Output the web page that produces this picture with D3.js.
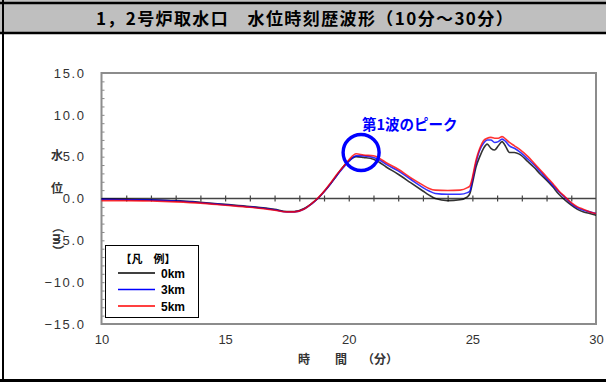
<!DOCTYPE html>
<html><head><meta charset="utf-8">
<script src="https://cdn.jsdelivr.net/npm/d3@7"></script>
<style>
html,body{margin:0;padding:0;background:#fff;}
svg{display:block;}
text{font-family:"Noto Sans CJK JP","Liberation Sans",sans-serif;}
</style></head><body>
<script>
const chartTitle = "1，2号炉取水口　水位時刻歴波形（10分～30分）";
const xTicks = [10, 15, 20, 25, 30];
const yTicks = [15, 10, 5, 0, -5, -10, -15];
const seriesNames = ["0km", "3km", "5km"];
const seriesColors = ["#000000", "#0000ff", "#ff0000"];
const times = [10,11,12,13,14,15,16,17,17.5,17.8,18.2,18.5,18.75,19,19.25,19.5,19.75,20,20.3,20.6,21,21.25,21.5,22,22.5,23,23.25,23.5,24,24.5,24.8,24.9,25,25.15,25.3,25.45,25.6,25.75,25.9,26.05,26.2,26.35,26.5,26.7,26.9,27.25,27.5,27.75,28,28.25,28.5,28.75,29,29.25,29.5,29.75,30];
const level0km = [-0.05,-0.1,-0.15,-0.25,-0.45,-0.7,-0.95,-1.3,-1.55,-1.55,-1.2,-0.6,0.0,0.8,1.7,2.7,3.7,4.5,5.0,4.9,4.7,4.3,3.8,2.9,1.9,0.9,0.4,0.0,-0.25,-0.15,0.2,0.6,1.8,3.8,5.0,6.0,6.5,6.0,5.8,6.3,6.8,6.2,5.5,5.5,5.3,4.4,3.7,2.9,2.2,1.4,0.5,-0.2,-0.8,-1.3,-1.6,-1.8,-2.0];
const level3km = [-0.1,-0.15,-0.2,-0.3,-0.5,-0.75,-1.0,-1.35,-1.6,-1.6,-1.25,-0.65,0.0,0.8,1.7,2.7,3.6,4.4,5.1,5.1,4.9,4.6,4.1,3.3,2.3,1.3,0.9,0.6,0.5,0.5,0.7,0.9,2.2,4.3,5.8,6.6,7.0,7.0,6.7,6.8,7.1,6.8,6.3,6.0,5.6,4.7,4.0,3.2,2.4,1.6,0.8,0.1,-0.6,-1.1,-1.4,-1.6,-1.8];
const level5km = [-0.25,-0.25,-0.3,-0.4,-0.55,-0.8,-1.05,-1.4,-1.6,-1.6,-1.25,-0.6,0.05,0.85,1.8,2.8,3.7,4.6,5.35,5.2,5.1,4.8,4.3,3.5,2.5,1.6,1.2,1.0,0.95,1.0,1.3,1.5,2.5,4.6,6.0,6.9,7.2,7.3,7.2,7.2,7.4,7.1,6.7,6.3,5.9,5.0,4.2,3.4,2.6,1.8,0.9,0.2,-0.5,-1.0,-1.3,-1.6,-1.8];
const seriesValues = [level0km, level3km, level5km];
const annotationText = "第1波のピーク";
const annotationPoint = {t: 20.5, v: 5.5};

const W = 606, H = 382;
const svg = d3.select("body").append("svg").attr("width", W).attr("height", H);

// frame
svg.append("rect").attr("x",0).attr("y",0).attr("width",W).attr("height",33).attr("fill","#bfbfbf");
svg.append("line").attr("x1",0).attr("x2",W).attr("y1",3).attr("y2",3).attr("stroke","#000").attr("stroke-width",2.5);
svg.append("line").attr("x1",0).attr("x2",W).attr("y1",33).attr("y2",33).attr("stroke","#000").attr("stroke-width",2.5);
svg.append("line").attr("x1",3).attr("x2",3).attr("y1",0).attr("y2",H).attr("stroke","#000").attr("stroke-width",2);
svg.append("line").attr("x1",0).attr("x2",W).attr("y1",380.5).attr("y2",380.5).attr("stroke","#000").attr("stroke-width",3);
svg.append("text").attr("x",305).attr("y",25).attr("text-anchor","middle")
  .attr("font-size",17).attr("font-weight","bold").attr("fill","#000").attr("letter-spacing","1.4px").text(chartTitle);

const L = 101.5, R = 596, T = 73, B = 324;
const x = d3.scaleLinear().domain([10,30]).range([L,R]);
const y = d3.scaleLinear().domain([-15,15]).range([B,T]);

// y minor ticks (inside left border)
const yMinor = d3.range(-15, 15.01, 1);
svg.append("g").attr("transform",`translate(${L},0)`)
  .call(d3.axisRight(y).tickValues(yMinor).tickSize(3).tickFormat(""))
  .call(g=>g.select(".domain").remove())
  .call(g=>g.selectAll("line").attr("stroke","#888"));

// y labels
svg.append("g").attr("transform",`translate(${L-14},0)`)
  .call(d3.axisLeft(y).tickValues(yTicks).tickSize(0).tickPadding(2).tickFormat(d=>d3.format(".1f")(d).replace("-","−")))
  .call(g=>g.select(".domain").remove())
  .call(g=>g.selectAll("text").attr("font-size",13).attr("fill","#333").attr("letter-spacing","1.6px")
     .style("font-family","'Liberation Sans',sans-serif"));

// plot border
svg.append("rect").attr("x",L).attr("y",T).attr("width",R-L).attr("height",B-T)
  .attr("fill","none").attr("stroke","#8c8c8c").attr("stroke-width",2);

// zero axis with minute ticks
const xMinor = d3.range(11, 30, 1);
svg.append("g").attr("transform",`translate(0,${y(0)})`)
  .call(d3.axisBottom(x).tickValues(xMinor).tickSize(3).tickFormat(""))
  .call(g=>g.select(".domain").attr("stroke","#444").attr("stroke-width",1.5).attr("d",`M${L},0H${R}`))
  .call(g=>g.selectAll(".tick line").attr("stroke","#444").attr("y1",-3).attr("y2",3).attr("stroke-width",1.2));

// x labels
svg.append("g").attr("transform",`translate(0,${B+8})`)
  .call(d3.axisBottom(x).tickValues(xTicks).tickSize(0).tickFormat(d3.format("d")))
  .call(g=>g.select(".domain").remove())
  .call(g=>g.selectAll("text").attr("font-size",13).attr("fill","#333")
     .style("font-family","'Liberation Sans',sans-serif"));

const xt = svg.append("g").attr("font-size",12).attr("font-weight","bold").attr("fill","#333").attr("text-anchor","middle");
xt.append("text").attr("x",304).attr("y",364).text("時");
xt.append("text").attr("x",341).attr("y",364).text("間");
xt.append("text").attr("x",380).attr("y",364).text("（分）");

// y title (vertical)
const yt = svg.append("g").attr("fill","#333").attr("font-size",12).attr("font-weight","bold");
yt.append("text").attr("x",57).attr("y",160).attr("text-anchor","middle").text("水");
yt.append("text").attr("x",57).attr("y",193).attr("text-anchor","middle").text("位");
yt.append("text").attr("transform","translate(53,239) rotate(90)").attr("text-anchor","middle").text("（m）");

// lines
const line = d3.line().x((d,i)=>x(times[i])).y(d=>y(d)).curve(d3.curveMonotoneX);
seriesValues.forEach((vals,k)=>{
  svg.append("path").datum(vals).attr("d",line).attr("fill","none")
    .attr("stroke",seriesColors[k]).attr("stroke-width",1.6).attr("stroke-opacity",0.8);
});

// annotation
svg.append("circle").attr("cx",x(annotationPoint.t)).attr("cy",y(annotationPoint.v))
  .attr("r",18).attr("fill","none").attr("stroke","#0000ff").attr("stroke-width",3.4);
svg.append("text").attr("x",362).attr("y",130).attr("font-size",14.5).attr("font-weight","bold")
  .attr("fill","#0000ff").text(annotationText);

// legend
const lg = svg.append("g");
lg.append("rect").attr("x",105.5).attr("y",245.5).attr("width",93).attr("height",72)
  .attr("fill","#fff").attr("stroke","#000").attr("stroke-width",1);
lg.append("text").attr("x",148).attr("y",263).attr("text-anchor","middle").attr("font-size",11)
  .attr("font-weight","bold").attr("xml:space","preserve").text("【凡　例】");
seriesNames.forEach((n,k)=>{
  const yy = 273 + k*16.5;
  lg.append("line").attr("x1",118).attr("x2",155).attr("y1",yy).attr("y2",yy)
    .attr("stroke",seriesColors[k]).attr("stroke-width",1.6);
  lg.append("text").attr("x",161).attr("y",yy+4.5).attr("font-size",12).attr("font-weight","bold")
    .style("font-family","'Liberation Sans',sans-serif").text(n);
});
</script>
</body></html>
